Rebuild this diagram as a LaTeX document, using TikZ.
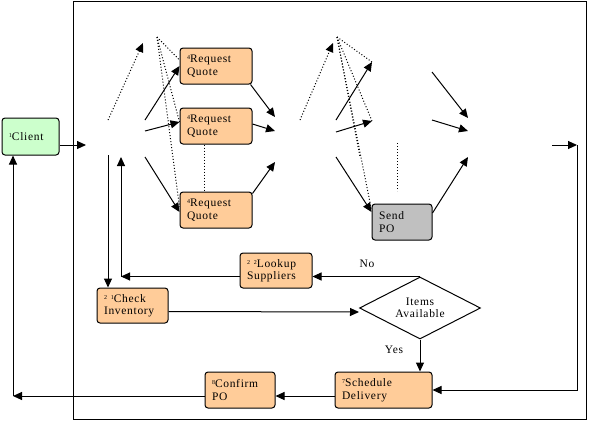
\documentclass[tikz,border=0pt]{standalone}
\usepackage{fontspec}
\setmainfont{Liberation Serif}[LetterSpace=6]
\usetikzlibrary{arrows.meta,positioning,shapes.geometric}
\definecolor{quotefill}{HTML}{FFCC99}
\definecolor{clientfill}{HTML}{CCFFCC}
\definecolor{pofill}{HTML}{C0C0C0}
\newcommand{\tasknum}[1]{\raisebox{0.55ex}{\fontsize{6}{6}\selectfont #1}}
\begin{document}
\begin{tikzpicture}[x=1pt, y=-1pt, line width=1pt,
  >={Triangle[length=9pt,width=8pt]},
  font=\fontsize{11.5}{12.5}\selectfont,
  task/.style={draw, rounded corners=3pt, fill=quotefill, align=left,
    inner xsep=7pt, inner ysep=0pt, minimum height=36pt, text width=#1},
  decision/.style={diamond, draw, fill=white, aspect=2, align=center,
    inner sep=0pt, minimum width=121pt, minimum height=62pt}]

\useasboundingbox (0,0) rectangle (589,421);
\draw (73,1) rectangle (586,419);

\node[task=43pt, fill=clientfill, minimum height=37pt] (client) at (30.5,136.5) {\tasknum{1}Client};
\node[task=58pt] (quote_a) at (216,66) {\tasknum{4}Request\\Quote};
\node[task=58pt] (quote_b) at (216,126) {\tasknum{4}Request\\Quote};
\node[task=58pt] (quote_c) at (216,210) {\tasknum{4}Request\\Quote};
\node[task=46pt, fill=pofill] (send_po) at (402,222) {Send\\PO};
\node[task=58pt, minimum height=35pt] (lookup) at (276,270.5) {\tasknum{2 2}Lookup\\Suppliers};
\node[task=57pt, minimum height=35pt] (check) at (132.5,305.5) {\tasknum{2 1}Check\\Inventory};
\node[decision] (items) at (420,308) {Items\\Available};
\node[task=83pt] (schedule) at (383.5,390) {\tasknum{7}Schedule\\Delivery};
\node[task=56pt] (confirm) at (240,390) {\tasknum{8}Confirm\\PO};

\node (no_label) at (367,264) {No};
\node (yes_label) at (394,350) {Yes};

% free ends, first group
\coordinate (in_a) at (86,145);
\coordinate (dot_a) at (108,120);
\coordinate (tip_a) at (143,43);
\coordinate (fan_a) at (157,37);
\coordinate (out_a1) at (145,120);
\coordinate (out_a2) at (145,131);
\coordinate (out_a3) at (145,157);
\coordinate (join_a1) at (275,117);
\coordinate (join_a2) at (275,131);
\coordinate (join_a3) at (275,162);
\coordinate (down_a) at (108,155);
\coordinate (up_a) at (121,157);

% free ends, second group
\coordinate (dot_b) at (300,120);
\coordinate (tip_b) at (333,43);
\coordinate (fan_b) at (337,37);
\coordinate (hub_b1) at (372,62);
\coordinate (hub_b2) at (372,121);
\coordinate (end_b) at (360,157);
\coordinate (out_b1) at (336,120);
\coordinate (out_b2) at (336,132);
\coordinate (out_b3) at (336,157);
\coordinate (gap_b1) at (397,143);
\coordinate (gap_b2) at (397,191);
\coordinate (from_b1) at (432,72);
\coordinate (from_b2) at (432,120);
\coordinate (join_b1) at (468,118);
\coordinate (join_b2) at (468,131);
\coordinate (join_b3) at (468,157);

% free ends, right side
\coordinate (out_c) at (552,145);
\coordinate (turn_c) at (577,145);
\coordinate (back_a) at (13,396);

\draw[->] (client.east |- in_a) -- (in_a);

\draw[dotted, ->] (dot_a) -- (tip_a);
\draw[dotted] (fan_a) -- ([yshift=6pt]quote_a.west);
\draw[dotted] (fan_a) -- ([yshift=4pt]quote_b.west);
\draw[dotted] (fan_a) -- ([yshift=3pt]quote_c.west);
\draw[->] (out_a1) -- (quote_a.west);
\draw[->] (out_a2) -- ([yshift=4pt]quote_b.west);
\draw[->] (out_a3) -- ([yshift=-2pt]quote_c.west);
\draw[->] ([xshift=-2pt]quote_a.south east) -- (join_a1);
\draw[->] ([yshift=2pt]quote_b.east) -- (join_a2);
\draw[->] ([yshift=-2pt]quote_c.north east) -- (join_a3);
\draw[dotted] ([xshift=-12pt]quote_b.south) -- ([xshift=-12pt]quote_c.north);

\draw[dotted, ->] (dot_b) -- (tip_b);
\draw[dotted] (fan_b) -- (hub_b1);
\draw[dotted] (fan_b) -- (hub_b2);
\draw[dotted] (fan_b) -- (end_b);
\draw[dotted] (fan_b) -- ([yshift=12pt]send_po.west);
\draw[->] (out_b1) -- (hub_b1);
\draw[->] (out_b2) -- (hub_b2);
\draw[->] (out_b3) -- ([yshift=10pt]send_po.west);
\draw[dotted] (gap_b1) -- (gap_b2);
\draw[->] (from_b1) -- (join_b1);
\draw[->] (from_b2) -- (join_b2);
\draw[->] ([yshift=9pt]send_po.east) -- (join_b3);

\draw[->] (down_a) -- (down_a |- check.north);
\draw[->] (lookup.west |- items.north) -- (up_a |- items.north);
\draw[->] (up_a |- items.north) -- (up_a);
\draw[->] (items.north) -- (lookup.east |- items.north);
\draw[->] ([yshift=-6pt]check.east) -- ([yshift=-4pt]items.west);
\draw[->] (items.south) -- (items.south |- schedule.north);
\draw[->] ([yshift=-6pt]schedule.west) -- ([yshift=-6pt]confirm.east);
\draw[->] ([yshift=-6pt]confirm.west) -- (back_a);
\draw[->] (back_a) -- (back_a |- client.south);

\draw[->] (out_c) -- (turn_c);
\draw[->] (turn_c) |- (schedule.east);

\end{tikzpicture}
\end{document}
